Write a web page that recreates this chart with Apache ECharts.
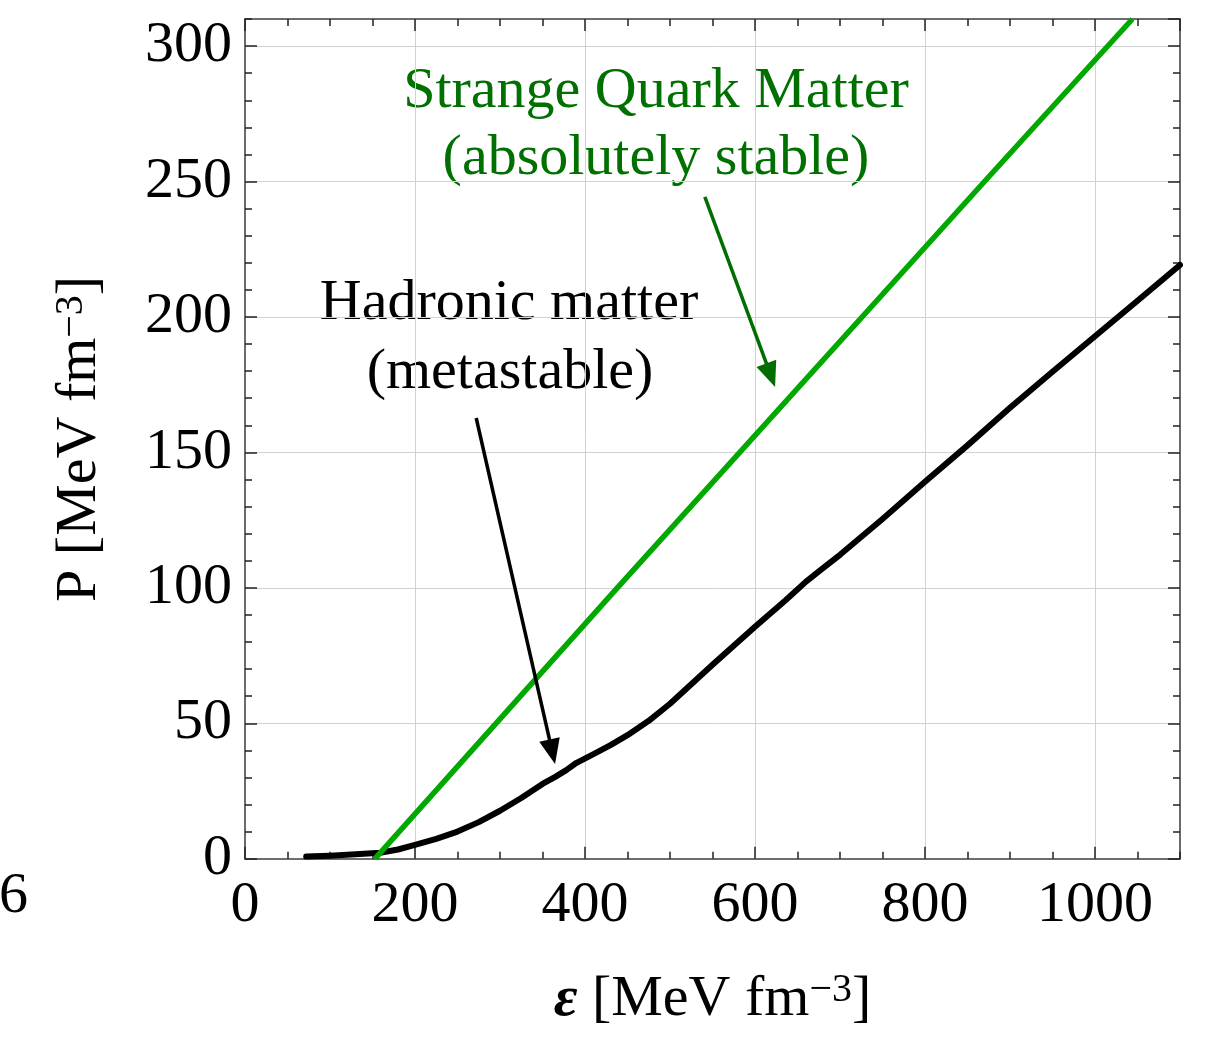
<!DOCTYPE html>
<html>
<head>
<meta charset="utf-8">
<title>Equation of state: hadronic vs strange quark matter</title>
<script src="https://cdn.jsdelivr.net/npm/echarts@6/dist/echarts.min.js"></script>
<style>
  html, body { margin: 0; padding: 0; background: #fff; }
  #chart { width: 1208px; height: 1037px; }
</style>
</head>
<body>
<div id="chart"></div>
<script>
// Energy density (MeV fm^-3) and pressure (MeV fm^-3) of the hadronic EoS
const hadronicEps = [72, 100, 130, 159, 180, 200, 225, 250, 275, 300, 325, 350, 365, 378, 390, 410, 430, 450, 475, 500, 525, 550, 575, 600, 636, 660, 677, 700, 750, 800, 850, 900, 950, 1000, 1050, 1100];
const hadronicP   = [0.8, 1.1, 1.6, 2.2, 3.4, 5.1, 7.3, 10.0, 13.5, 17.7, 22.4, 27.6, 30.2, 32.7, 35.4, 38.6, 41.9, 45.6, 50.9, 57.2, 64.4, 71.6, 78.6, 85.6, 95.4, 102.3, 106.5, 112.2, 125.4, 139.2, 152.6, 166.5, 179.8, 192.9, 206.0, 219.2];

// Strange quark matter EoS (linear)
const quarkEps = [153, 438, 870, 1044];
const quarkP   = [0, 100, 250, 310];

// Axis ticks
const xMajorStep = 200, xMinorStep = 50, xMax = 1100;
const yMajorStep = 50,  yMinorStep = 10, yMax = 310;

// Annotation arrows: [start, arrowhead centre] in data units
const hadronicArrow = [[272, 162.7], [361.5, 39.5]];
const quarkArrow    = [[541, 244.3], [618.5, 178.5]];

const serif = "'Liberation Serif', 'DejaVu Serif', serif";
const frameColor = '#666';
const tickColor = '#222';

const zip = (xs, ys) => xs.map((x, i) => [x, ys[i]]);

// One side of the plot frame: axis line plus inward ticks
function frameAxis(position, step, max, tickLen, opts) {
  return Object.assign({
    type: 'value',
    position: position,
    min: 0,
    max: max,
    interval: step,
    axisLine: { show: true, onZero: false, lineStyle: { color: frameColor, width: 1.6 } },
    axisTick: { show: true, inside: true, length: tickLen, lineStyle: { color: tickColor, width: 1.5 } },
    axisLabel: { show: false },
    splitLine: { show: false },
    minorTick: { show: false },
    minorSplitLine: { show: false }
  }, opts || {});
}

const labelStyle = { fontFamily: serif, fontSize: 58, color: '#000' };
const nameRich = {
  e: { fontFamily: serif, fontSize: 58, fontStyle: 'italic', fontWeight: 'bold', color: '#000' },
  s: { fontFamily: serif, fontSize: 40, color: '#000', verticalAlign: 'top', padding: [0, 0, 16, 0] }
};
const plainNumber = v => String(v);

const chart = echarts.init(document.getElementById('chart'), null, { renderer: 'canvas' });

chart.setOption({
  backgroundColor: '#fff',
  animation: false,
  grid: { left: 245, right: 28, top: 19, bottom: 178.3, containLabel: false, outerBoundsMode: 'none' },
  xAxis: [
    frameAxis('bottom', xMajorStep, xMax, 12, {
      axisLabel: Object.assign({ show: true, margin: 18, showMaxLabel: false, formatter: plainNumber }, labelStyle),
      splitLine: { show: true, lineStyle: { color: '#d2d2d2', width: 1 } },
      name: '{e|ε} [MeV fm{s|−3}]',
      nameLocation: 'middle',
      nameGap: 112,
      nameTextStyle: Object.assign({ rich: nameRich }, labelStyle)
    }),
    frameAxis('bottom', xMinorStep, xMax, 7),
    frameAxis('top', xMajorStep, xMax, 12),
    frameAxis('top', xMinorStep, xMax, 7)
  ],
  yAxis: [
    frameAxis('left', yMajorStep, yMax, 12, {
      axisLabel: Object.assign({ show: true, margin: 13, showMaxLabel: false, formatter: plainNumber }, labelStyle),
      splitLine: { show: true, lineStyle: { color: '#d2d2d2', width: 1 } },
      name: 'P [MeV fm{s|−3}]',
      nameLocation: 'middle',
      nameRotate: 90,
      nameGap: 136,
      nameTextStyle: Object.assign({ rich: nameRich }, labelStyle)
    }),
    frameAxis('left', yMinorStep, yMax, 7),
    frameAxis('right', yMajorStep, yMax, 12),
    frameAxis('right', yMinorStep, yMax, 7)
  ],
  series: [
    {
      name: 'Hadronic matter',
      type: 'line',
      xAxisIndex: 0,
      yAxisIndex: 0,
      data: zip(hadronicEps, hadronicP),
      showSymbol: false,
      smooth: false,
      lineStyle: { color: '#000', width: 6, join: 'round', cap: 'round' },
      z: 3,
      markLine: {
        silent: true,
        symbol: ['none', 'triangle'],
        symbolSize: [21, 25],
        label: { show: false },
        lineStyle: { color: '#000', width: 3.5, type: 'solid' },
        emphasis: { disabled: true },
        data: [[{ coord: hadronicArrow[0] }, { coord: hadronicArrow[1] }]]
      }
    },
    {
      name: 'Strange quark matter',
      type: 'line',
      xAxisIndex: 0,
      yAxisIndex: 0,
      data: zip(quarkEps, quarkP),
      showSymbol: false,
      lineStyle: { color: '#00a800', width: 5.5 },
      z: 4,
      markLine: {
        silent: true,
        symbol: ['none', 'triangle'],
        symbolSize: [21, 25],
        label: { show: false },
        lineStyle: { color: '#006e00', width: 3.5, type: 'solid' },
        emphasis: { disabled: true },
        data: [[{ coord: quarkArrow[0] }, { coord: quarkArrow[1] }]]
      }
    }
  ],
  graphic: [
    { type: 'text', x: 656, y: 92, style: { text: 'Strange Quark Matter', fill: '#007000', font: '58px ' + serif, align: 'center', verticalAlign: 'middle' } },
    { type: 'text', x: 656, y: 159, style: { text: '(absolutely stable)', fill: '#007000', font: '58px ' + serif, align: 'center', verticalAlign: 'middle' } },
    { type: 'text', x: 509, y: 304, style: { text: 'Hadronic matter', fill: '#000', font: '58px ' + serif, align: 'center', verticalAlign: 'middle' } },
    { type: 'text', x: 510, y: 373, style: { text: '(metastable)', fill: '#000', font: '58px ' + serif, align: 'center', verticalAlign: 'middle' } },
    { type: 'text', x: 28, y: 897, style: { text: '6', fill: '#000', font: '58px ' + serif, align: 'right', verticalAlign: 'middle' } }
  ]
});
</script>
</body>
</html>
